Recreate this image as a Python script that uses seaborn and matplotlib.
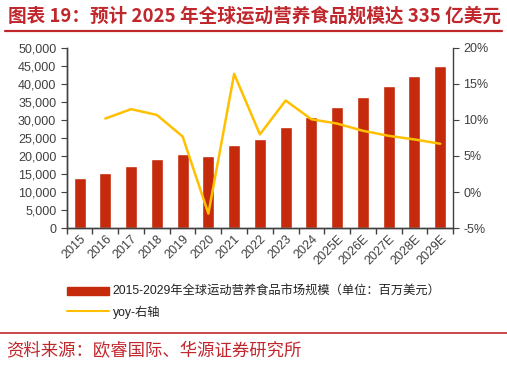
import numpy as np
import pandas as pd
import matplotlib
matplotlib.use("Agg")
import matplotlib.pyplot as plt
import matplotlib.ticker as mticker
from matplotlib.patches import Patch
from matplotlib.lines import Line2D
import seaborn as sns

years = ["2015", "2016", "2017", "2018", "2019", "2020", "2021", "2022", "2023",
         "2024", "2025E", "2026E", "2027E", "2028E", "2029E"]
market_size = [14000, 15300, 17100, 19100, 20500, 19900, 23000, 24800, 28000,
               30800, 33600, 36500, 39400, 42300, 45100]
yoy = [np.nan, 10.2, 11.5, 10.7, 7.7, -3.0, 16.4, 8.0, 12.7,
       10.1, 9.5, 8.5, 7.8, 7.3, 6.7]

title = "图表 19：预计 2025 年全球运动营养食品规模达 335 亿美元"
bar_label = "2015-2029年全球运动营养食品市场规模（单位：百万美元）"
line_label = "yoy-右轴"
source = "资料来源：欧睿国际、华源证券研究所"

bar_color = "#C42A0B"
line_color = "#FFC000"
red = "#C0272D"
grey = "#404040"

sns.set_style("ticks")
plt.rcParams["font.family"] = ["Liberation Sans", "Noto Sans CJK SC", "DejaVu Sans"]

df = pd.DataFrame({"year": years, "size": market_size, "yoy": yoy})
df["pos"] = np.arange(len(df))

fig = plt.figure(figsize=(5.07, 3.66), dpi=100)
ax = fig.add_axes([0.1316, 0.377, 0.762, 0.492])

sns.barplot(data=df, x="year", y="size", color=bar_color, width=0.46,
            saturation=1, ax=ax)
ax.set_xlim(-0.5, len(years) - 0.5)
ax.set_ylim(0, 50000)
ax.yaxis.set_major_locator(mticker.MultipleLocator(5000))
ax.yaxis.set_major_formatter(mticker.FuncFormatter(lambda v, p: f"{v:,.0f}"))
ax.set_xlabel("")
ax.set_ylabel("")

# ticks between categories
ax.set_xticks(np.arange(len(years)))
ax.set_xticks(np.arange(len(years) + 1) - 0.5, minor=True)
ax.tick_params(axis="x", which="major", length=0)
ax.tick_params(axis="x", which="minor", length=4, color=grey, width=1)
ax.set_xticklabels(years, rotation=45, ha="right", rotation_mode="anchor",
                   fontsize=9, color=grey)
ax.tick_params(axis="y", labelsize=9, labelcolor=grey, length=4, color=grey)

ax2 = ax.twinx()
sns.lineplot(data=df, x="pos", y="yoy", color=line_color, linewidth=1.8, ax=ax2)
ax2.set_ylim(-5, 20)
ax2.yaxis.set_major_locator(mticker.MultipleLocator(5))
ax2.yaxis.set_major_formatter(mticker.FuncFormatter(lambda v, p: f"{v:.0f}%"))
ax2.set_xlim(-0.5, len(years) - 0.5)
ax2.set_xlabel("")
ax2.set_ylabel("")
ax2.tick_params(axis="y", labelsize=9, labelcolor=grey, length=4, color=grey)

for a in (ax, ax2):
    a.spines["top"].set_visible(False)
    for s in ("left", "right", "bottom"):
        a.spines[s].set_color(grey)
        a.spines[s].set_linewidth(1)
ax.spines["right"].set_visible(False)

handles = [Patch(color=bar_color), Line2D([0], [0], color=line_color, linewidth=1.5)]
fig.legend(handles, [bar_label, line_label], loc="upper left",
           bbox_to_anchor=(67 / 507, 1 - 286 / 366), frameon=False,
           fontsize=8.8, handlelength=3.4, handletextpad=0.35, borderpad=0,
           borderaxespad=0, labelspacing=0.6, labelcolor="#222222")

fig.text(8 / 507, 1 - 16 / 366, title, fontsize=13.4, fontweight="bold",
         color=red, va="center", ha="left", family=["Noto Sans CJK SC"])
fig.add_artist(Line2D([5 / 507, 502 / 507], [1 - 31 / 366] * 2, color=red, linewidth=1.6))
fig.add_artist(Line2D([0, 1], [1 - 333 / 366] * 2, color=red, linewidth=1.2))
fig.text(6 / 507, 1 - 351 / 366, source, fontsize=12.5, color=red,
         va="center", ha="left", family=["Noto Sans CJK SC"])

fig.savefig("out.png", dpi=100)
